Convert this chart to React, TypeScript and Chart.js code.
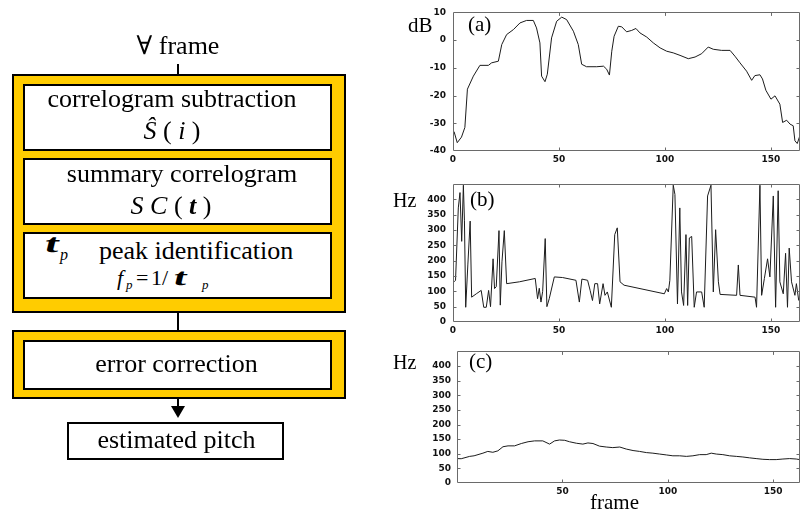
import React, { useEffect, useRef } from 'react';
import { Chart, registerables } from 'chart.js';

Chart.register(...registerables);

// ---------- data ----------
const aFrames = [0.5, 2, 4, 5.6, 6.8, 9.6, 12.7, 16.7, 18.2, 21.4, 23, 25.3, 28.5, 31.6, 34.7, 37.9, 39.4, 41, 41.8, 43.4, 44.5, 46.5, 48.9, 51.3, 53.6, 56.8, 59.1, 60.7, 63, 67.8, 71, 72.5, 73.8, 74.9, 76, 78, 79.6, 81.9, 84.3, 86.3, 88.2, 91.4, 94.5, 97.7, 100.8, 103.9, 107.1, 111, 114.2, 117.3, 120.4, 122.8, 126.7, 130.7, 133, 135.4, 138.5, 140.9, 142.4, 144.8, 146, 147.6, 150, 151.9, 154.2, 155.5, 157.4, 159, 160.5, 161.3, 162.4, 163.6];
const aDb = [-33, -37, -35, -31.5, -17.7, -13, -9.1, -9.1, -8.2, -7.6, -1.6, 2, 3.8, 6.2, 7.1, 7.1, 4.4, -1, -13, -15, -12.3, 0.8, 6.8, 8.3, 7.4, 3.2, -1.6, -8.7, -9.6, -9.6, -9.4, -10.5, -12.6, -4, 1.4, 5, 4.8, 3, 3.5, 4.2, 2.6, 1.1, -1, -2.8, -4, -4.6, -5.5, -6.7, -6.1, -4.9, -2.5, -3.3, -3.7, -3.7, -5.8, -8.2, -11.2, -14.5, -12.8, -12.5, -14, -18.1, -21.3, -20.1, -23.1, -29.7, -28.9, -30.3, -30.9, -36.3, -37.3, -34.6];

const bFrames = [0.5, 1.2, 2.5, 3.3, 4.1, 4.9, 5.4, 6.0, 7.0, 8.1, 8.8, 11, 13.3, 14.5, 15.7, 16.8, 17.7, 18.9, 19.6, 20.4, 21.7, 22.3, 23.1, 24.2, 25.3, 31.3, 38.8, 39.9, 40.7, 41.5, 42.3, 43.5, 44.3, 45.4, 47.8, 51.7, 58, 59.6, 60.8, 63.5, 64.7, 65.8, 66.9, 68.2, 69.2, 70.8, 71.7, 72.8, 74.7, 76.3, 77.5, 78.8, 80.7, 99.7, 100.8, 101.6, 102.3, 103.9, 104.7, 105.9, 107, 107.8, 108.8, 109.9, 110.7, 111.5, 112.6, 113.8, 114.9, 117.3, 118.5, 120.1, 121.7, 122.8, 123.9, 125.2, 126, 133.8, 134.6, 135.4, 142.5, 143.2, 144.8, 145.6, 146.9, 148.4, 149.5, 151.1, 152.2, 153.4, 154.2, 155.8, 156.9, 157.8, 158.6, 159.7, 161.3, 162, 163.1];
const bHz = [131, 136, 372, 422, 263, 446, 330, 48, 186, 329, 81, 92, 103, 48, 48, 103, 50, 206, 109, 115, 298, 55, 196, 298, 125, 131, 142, 76, 110, 65, 100, 272, 50, 76, 147, 145, 136, 65, 140, 136, 103, 70, 125, 125, 59, 125, 87, 98, 48, 285, 307, 131, 120, 92, 109, 98, 136, 446, 416, 59, 372, 98, 54, 285, 54, 274, 279, 48, 98, 98, 48, 411, 446, 98, 301, 131, 90, 87, 186, 87, 81, 48, 446, 87, 142, 206, 147, 411, 48, 428, 131, 92, 224, 48, 241, 131, 87, 125, 70];

const cFrames = [0, 2, 6, 8.1, 12.3, 14.6, 17, 19.4, 21.8, 24.2, 27.3, 30.5, 33.7, 36.8, 40.7, 43.9, 46.3, 48.6, 51.1, 53.4, 56.6, 59.7, 62.1, 64.5, 67.6, 70.8, 73.9, 77.2, 80.3, 83.5, 86.6, 89.8, 92.9, 96.1, 99.3, 102.4, 105.6, 108.8, 111.9, 115.1, 118.2, 120.6, 123, 126.1, 129.3, 132.5, 135.6, 138.8, 141.9, 145.1, 148.3, 151.4, 154.6, 157.8, 160.9, 162.5];
const cHz = [83.5, 83, 91, 93, 102, 108, 105, 110, 124, 127, 127, 135, 141, 144, 144, 133, 144, 147, 146, 141, 136, 133, 137, 135, 126, 123, 121, 123, 116, 111, 108, 104, 102, 99, 96, 93, 93, 91, 93, 97, 97, 102, 99, 97, 93, 91, 89, 86, 83.5, 81, 80, 80, 82, 83.5, 82, 80];

const xTickStep = 50;
const dbTickStep = 10;
const hzTickStep = 50;

// ---------- chart helpers ----------
const boxPlugin = {
  id: 'matlabBox',
  afterDraw(chart: any) {
    const { ctx, chartArea, scales } = chart;
    const { left, right, top, bottom } = chartArea;
    const tl = 3.5;
    ctx.save();
    ctx.strokeStyle = '#6a6a6a';
    ctx.lineWidth = 1;
    ctx.beginPath();
    ctx.rect(Math.round(left) + 0.5, Math.round(top) + 0.5, Math.round(right - left) - 1, Math.round(bottom - top) - 1);
    const xs = scales.x;
    xs.ticks.forEach((t: any) => {
      if (t.value <= xs.min || t.value >= xs.max) return;
      const px = Math.round(xs.getPixelForValue(t.value)) + 0.5;
      ctx.moveTo(px, bottom);
      ctx.lineTo(px, bottom - tl);
      ctx.moveTo(px, top);
      ctx.lineTo(px, top + tl);
    });
    const ys = scales.y;
    ys.ticks.forEach((t: any) => {
      if (t.value <= ys.min || t.value >= ys.max) return;
      const py = Math.round(ys.getPixelForValue(t.value)) + 0.5;
      ctx.moveTo(left, py);
      ctx.lineTo(left + tl, py);
      ctx.moveTo(right, py);
      ctx.lineTo(right - tl, py);
    });
    ctx.stroke();
    ctx.restore();
  },
};

const tickFont = { family: '"DejaVu Sans", sans-serif', size: 9, weight: 'bold' };

type LCProps = {
  left: number; top: number; width: number; height: number;
  padTop: number; yWidth: number; xHeight: number;
  xs: number[]; ys: number[];
  xMin: number; xMax: number; yMin: number; yMax: number; yStep: number;
  hideX0?: boolean; yLabelMax?: number; yPad: number;
};

function LineChart(p: LCProps) {
  const ref = useRef<HTMLCanvasElement>(null);
  useEffect(() => {
    const chart = new Chart(ref.current as HTMLCanvasElement, {
      type: 'line',
      data: {
        datasets: [
          {
            data: p.xs.map((x, i) => ({ x, y: p.ys[i] })),
            borderColor: '#1c1c1c',
            borderWidth: 1,
            pointRadius: 0,
            tension: 0,
            fill: false,
          },
        ],
      },
      options: {
        animation: false,
        responsive: false,
        devicePixelRatio: 1,
        layout: { padding: { top: p.padTop, left: 0, right: 0, bottom: 0 } },
        plugins: { legend: { display: false }, tooltip: { enabled: false } },
        scales: {
          x: {
            type: 'linear',
            min: p.xMin,
            max: p.xMax,
            grid: { display: false, drawTicks: false },
            border: { display: false },
            afterFit: (s: any) => { s.height = p.xHeight; },
            ticks: {
              stepSize: xTickStep,
              includeBounds: false,
              autoSkip: false,
              maxRotation: 0,
              padding: 3,
              font: tickFont,
              color: '#111',
              callback: (v: any) => (p.hideX0 && v === 0 ? '' : String(v)),
            },
          },
          y: {
            type: 'linear',
            min: p.yMin,
            max: p.yMax,
            grid: { display: false, drawTicks: false },
            border: { display: false },
            afterFit: (s: any) => { s.width = p.yWidth; },
            ticks: {
              stepSize: p.yStep,
              autoSkip: false,
              padding: p.yPad,
              font: tickFont,
              color: '#111',
              callback: (v: any) => (p.yLabelMax !== undefined && v > p.yLabelMax ? '' : String(v)),
            },
          },
        },
      } as any,
      plugins: [boxPlugin],
    });
    return () => chart.destroy();
  }, []);
  return (
    <canvas
      ref={ref}
      width={p.width}
      height={p.height}
      style={{ position: 'absolute', left: p.left, top: p.top, width: p.width, height: p.height }}
    />
  );
}

// ---------- text / shapes ----------
const SERIF = '"Liberation Serif", "Times New Roman", "DejaVu Serif", serif';
const YELLOW = '#FFCC00';

function Txt(props: { x: number; y: number; size: number; anchor?: 'middle' | 'start'; children: any; style?: any }) {
  const { x, y, size, anchor = 'middle', children, style = {} } = props;
  const base: any = {
    position: 'absolute',
    top: y - 0.8375 * size,
    fontFamily: SERIF,
    fontSize: size,
    lineHeight: `${size}px`,
    whiteSpace: 'nowrap',
    color: '#000',
    ...style,
  };
  if (anchor === 'middle') {
    return <div style={{ ...base, left: x - 300, width: 600, textAlign: 'center' }}>{children}</div>;
  }
  return <div style={{ ...base, left: x }}>{children}</div>;
}

function Box(props: { l: number; t: number; w: number; h: number; bg?: string }) {
  return (
    <div
      style={{
        position: 'absolute',
        left: props.l,
        top: props.t,
        width: props.w,
        height: props.h,
        boxSizing: 'border-box',
        border: '2px solid #000',
        background: props.bg || '#fff',
      }}
    />
  );
}

function VLine(props: { x: number; y1: number; y2: number }) {
  return (
    <div style={{ position: 'absolute', left: props.x, top: props.y1, width: 2, height: props.y2 - props.y1, background: '#000' }} />
  );
}

const boldT = { fontWeight: 'bold', transform: 'scaleX(1.7) skewX(-8deg)', transformOrigin: 'left center' };
const ital = { fontStyle: 'italic' };

export default function App() {
  return (
    <div style={{ position: 'fixed', left: 0, top: 0, width: 800, height: 513, overflow: 'hidden', background: '#fff' }}>
      {/* charts */}
      <LineChart left={400} top={0} width={400} height={170} padTop={12} yWidth={53} xHeight={19}
        xs={aFrames} ys={aDb} xMin={0} xMax={163.7} yMin={-40} yMax={10} yStep={dbTickStep} yPad={7} />
      <LineChart left={400} top={170} width={400} height={170} padTop={14} yWidth={53} xHeight={18}
        xs={bFrames} ys={bHz} xMin={0} xMax={163.7} yMin={0} yMax={450} yStep={hzTickStep} yLabelMax={400} yPad={7} />
      <LineChart left={400} top={340} width={400} height={173} padTop={7} yWidth={57} xHeight={30}
        xs={cFrames} ys={cHz} xMin={0} xMax={162.7} yMin={0} yMax={450} yStep={hzTickStep} yLabelMax={400} hideX0 yPad={6} />

      <Txt x={408} y={33} size={21} anchor="start">dB</Txt>
      <Txt x={468} y={32} size={21} anchor="start">(a)</Txt>
      <Txt x={393} y={207} size={20} anchor="start">Hz</Txt>
      <Txt x={470} y={207} size={21} anchor="start">(b)</Txt>
      <Txt x={393} y={369} size={20} anchor="start">Hz</Txt>
      <Txt x={469} y={369} size={21} anchor="start">(c)</Txt>
      <Txt x={614.5} y={510} size={21}>frame</Txt>

      {/* flowchart */}
      <Txt x={178} y={55} size={26}>∀ frame</Txt>
      <VLine x={177} y1={64} y2={74} />
      <Box l={12} t={74} w={334} h={239} bg={YELLOW} />
      <Box l={23} t={84} w={309} h={67} />
      <Box l={23} t={158} w={309} h={67} />
      <Box l={23} t={232} w={309} h={67} />
      <VLine x={177} y1={313} y2={330} />
      <Box l={12} t={330} w={334} h={69} bg={YELLOW} />
      <Box l={23} t={340} w={309} h={50} />
      <VLine x={177} y1={399} y2={407} />
      <div style={{ position: 'absolute', left: 171, top: 406, width: 0, height: 0, borderLeft: '7px solid transparent', borderRight: '7px solid transparent', borderTop: '12px solid #000' }} />
      <Box l={67} t={422} w={217} h={38} />

      <Txt x={172} y={108} size={26}>correlogram subtraction</Txt>
      <Txt x={172} y={140} size={26}><i>Ŝ</i> ( <i>i</i> )</Txt>
      <Txt x={182} y={183} size={26}>summary correlogram</Txt>
      <Txt x={171} y={215} size={26}><i>S</i> <i>C</i> ( <b><i>t</i></b> )</Txt>

      <Txt x={45} y={253} size={26} anchor="start" style={boldT}>t</Txt>
      <Txt x={60} y={260} size={16} anchor="start" style={ital}>p</Txt>
      <Txt x={99} y={260} size={26} anchor="start">peak identification</Txt>
      <Txt x={117} y={285} size={22} anchor="start" style={ital}>f</Txt>
      <Txt x={126} y={289} size={13} anchor="start" style={ital}>p</Txt>
      <Txt x={136} y={285} size={22} anchor="start">=</Txt>
      <Txt x={151} y={285} size={22} anchor="start">1</Txt>
      <Txt x={162} y={285} size={22} anchor="start">/</Txt>
      <Txt x={174} y={285} size={24} anchor="start" style={boldT}>t</Txt>
      <Txt x={202} y={289} size={13} anchor="start" style={ital}>p</Txt>

      <Txt x={176.5} y={373} size={26}>error correction</Txt>
      <Txt x={176.5} y={449} size={26}>estimated pitch</Txt>
    </div>
  );
}
